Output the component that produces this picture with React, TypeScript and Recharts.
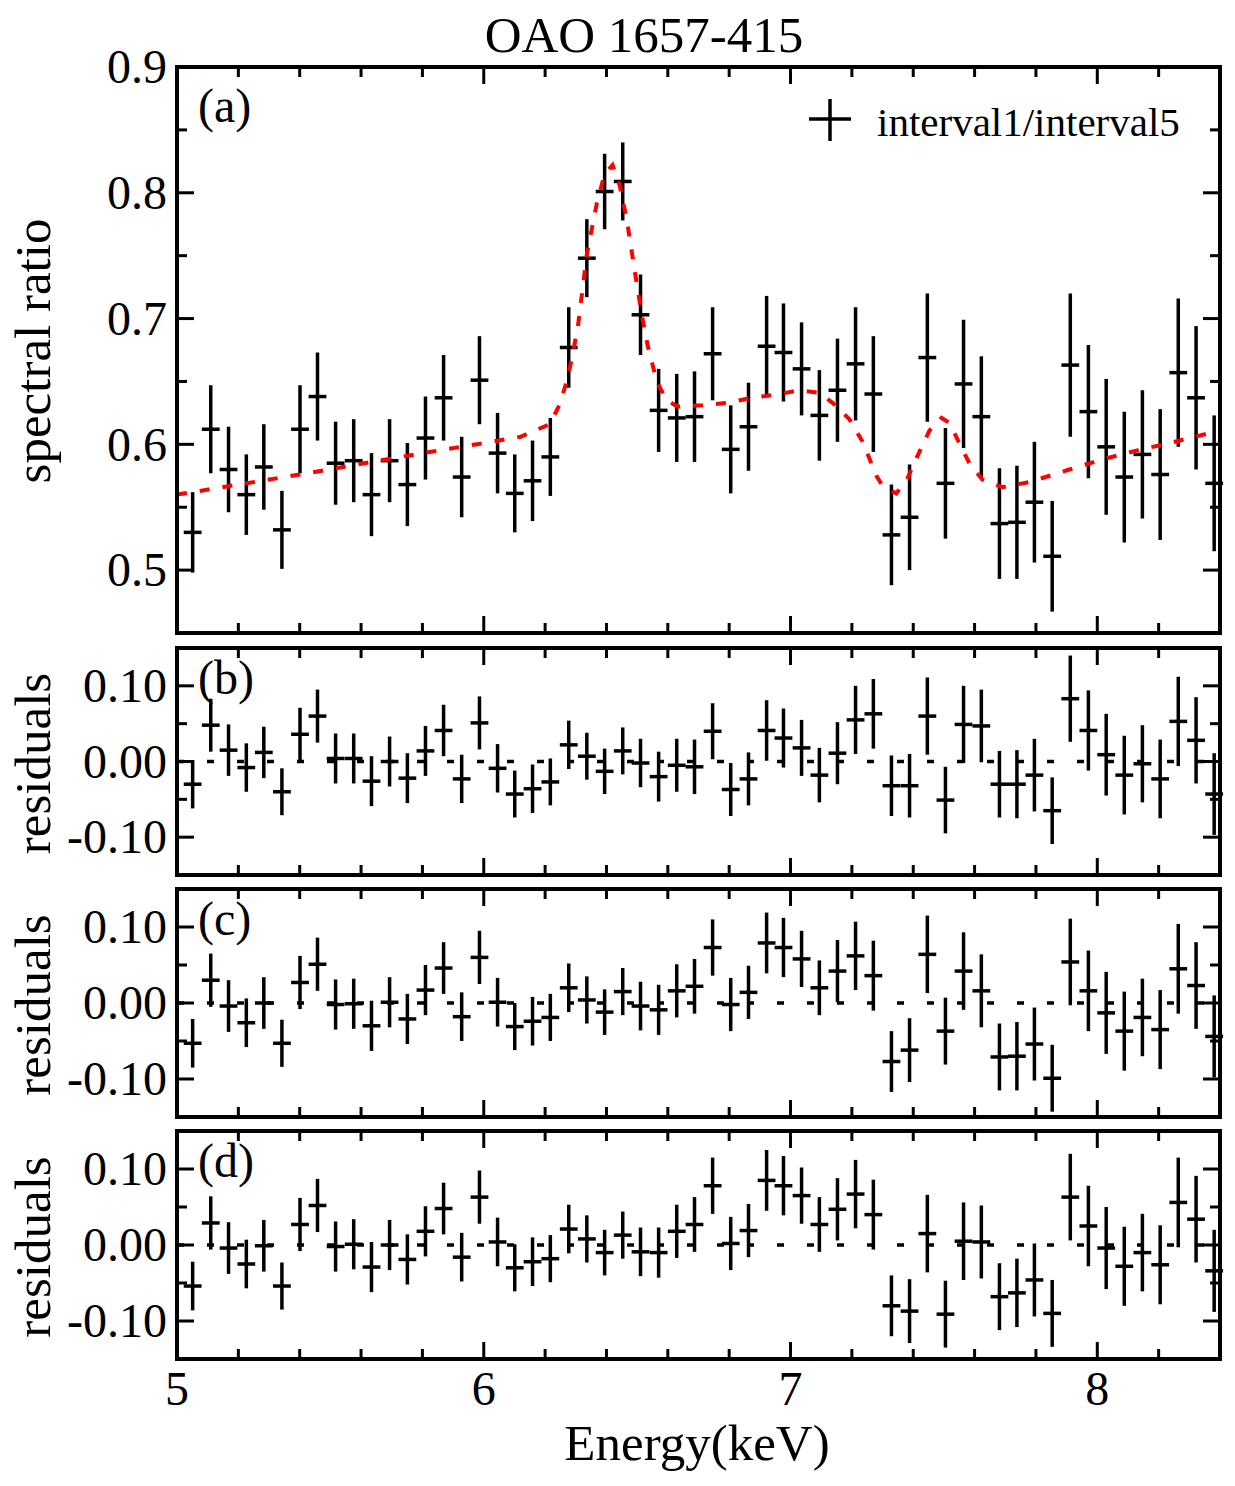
import React from 'react';
import { ComposedChart, XAxis, YAxis, Scatter, ErrorBar, Line, ReferenceLine } from 'recharts';

// bin centres (keV)
const energy = [
  5.051, 5.110, 5.168, 5.226, 5.283, 5.342, 5.401, 5.458, 5.517, 5.576,
  5.634, 5.693, 5.751, 5.810, 5.869, 5.928, 5.986, 6.045, 6.101, 6.159,
  6.217, 6.277, 6.336, 6.394, 6.453, 6.511, 6.570, 6.629, 6.687, 6.746,
  6.805, 6.863, 6.922, 6.977, 7.036, 7.094, 7.153, 7.212, 7.270, 7.329,
  7.388, 7.446, 7.505, 7.564, 7.622, 7.681, 7.738, 7.795, 7.853, 7.912,
  7.971, 8.029, 8.088, 8.147, 8.205, 8.264, 8.322, 8.381,
];
const binHalfWidth = 0.029;

// interval1 / interval5
const ratio = [
  0.530, 0.612, 0.580, 0.560, 0.582, 0.532, 0.612, 0.638, 0.585, 0.587,
  0.560, 0.587, 0.568, 0.605, 0.637, 0.574, 0.651, 0.593, 0.561, 0.571,
  0.590, 0.677, 0.748, 0.801, 0.809, 0.703, 0.627, 0.621, 0.622, 0.672,
  0.596, 0.614, 0.678, 0.673, 0.660, 0.623, 0.643, 0.664, 0.640, 0.528,
  0.542, 0.669, 0.569, 0.648, 0.622, 0.537, 0.538, 0.554, 0.511, 0.663,
  0.626, 0.598, 0.574, 0.592, 0.576, 0.657, 0.637, 0.569,
];
const ratioErr = [
  0.032, 0.035, 0.034, 0.032, 0.034, 0.031, 0.035, 0.035, 0.033, 0.033,
  0.033, 0.033, 0.033, 0.033, 0.034, 0.032, 0.035, 0.032, 0.031, 0.032,
  0.031, 0.032, 0.031, 0.030, 0.031, 0.032, 0.033, 0.035, 0.036, 0.037,
  0.035, 0.035, 0.040, 0.039, 0.037, 0.036, 0.041, 0.045, 0.046, 0.040,
  0.042, 0.051, 0.044, 0.051, 0.048, 0.044, 0.045, 0.048, 0.044, 0.057,
  0.053, 0.054, 0.052, 0.051, 0.052, 0.059, 0.057, 0.054,
];

// best-fit model (red dashed)
const modelEnergy = [
  5.00, 5.40, 5.80, 6.00, 6.12, 6.215, 6.248, 6.274, 6.306, 6.336,
  6.368, 6.394, 6.420, 6.443, 6.466, 6.492, 6.515, 6.534, 6.564, 6.596,
  6.632, 6.713, 6.792, 6.876, 6.964, 7.029, 7.094, 7.137, 7.192, 7.235,
  7.280, 7.300, 7.345, 7.381, 7.420, 7.453, 7.492, 7.518, 7.544, 7.583,
  7.625, 7.691, 7.779, 7.909, 8.016, 8.127, 8.235, 8.40,
];
const modelRatio = [
  0.560, 0.576, 0.593, 0.601, 0.606, 0.616, 0.632, 0.653, 0.692, 0.751,
  0.791, 0.815, 0.822, 0.806, 0.779, 0.738, 0.703, 0.679, 0.650, 0.635,
  0.630, 0.631, 0.633, 0.637, 0.640, 0.643, 0.641, 0.633, 0.620, 0.602,
  0.575, 0.567, 0.561, 0.573, 0.594, 0.611, 0.621, 0.617, 0.604, 0.585,
  0.572, 0.566, 0.570, 0.580, 0.588, 0.595, 0.601, 0.611,
];

// residuals of the three fits
const residB = [
  -0.030, 0.048, 0.015, -0.008, 0.012, -0.040, 0.036, 0.060, 0.004, 0.004,
  -0.026, 0.000, -0.022, 0.014, 0.041, -0.023, 0.051, -0.009, -0.043, -0.036,
  -0.027, 0.022, 0.007, -0.013, 0.014, -0.002, -0.020, -0.005, -0.007, 0.040,
  -0.037, -0.023, 0.041, 0.031, 0.018, -0.018, 0.011, 0.055, 0.063, -0.032,
  -0.032, 0.060, -0.051, 0.049, 0.047, -0.030, -0.030, -0.018, -0.065, 0.083,
  0.041, 0.009, -0.018, -0.003, -0.023, 0.053, 0.028, -0.043,
];
const residC = [
  -0.053, 0.030, -0.004, -0.026, 0.000, -0.053, 0.027, 0.051, -0.002, -0.001,
  -0.030, 0.001, -0.021, 0.017, 0.046, -0.018, 0.060, 0.001, -0.031, -0.024,
  -0.019, 0.020, 0.004, -0.012, 0.015, -0.004, -0.009, 0.016, 0.022, 0.073,
  -0.002, 0.014, 0.079, 0.073, 0.058, 0.020, 0.042, 0.062, 0.036, -0.077,
  -0.062, 0.064, -0.037, 0.042, 0.016, -0.071, -0.070, -0.054, -0.099, 0.054,
  0.016, -0.013, -0.037, -0.019, -0.035, 0.045, 0.023, -0.044,
];
const residD = [
  -0.054, 0.029, -0.004, -0.025, -0.001, -0.054, 0.027, 0.052, -0.002, 0.001,
  -0.029, 0.000, -0.019, 0.018, 0.048, -0.016, 0.063, 0.004, -0.030, -0.022,
  -0.018, 0.021, 0.008, -0.010, 0.013, -0.009, -0.010, 0.018, 0.027, 0.078,
  0.002, 0.019, 0.085, 0.078, 0.065, 0.027, 0.047, 0.067, 0.040, -0.080,
  -0.087, 0.015, -0.091, 0.005, 0.004, -0.068, -0.063, -0.046, -0.090, 0.063,
  0.025, -0.004, -0.028, -0.010, -0.026, 0.056, 0.034, -0.034,
];

const xMajor = [5, 6, 7, 8];
const xMinor = [5.2, 5.4, 5.6, 5.8, 6.2, 6.4, 6.6, 6.8, 7.2, 7.4, 7.6, 7.8, 8.2];
const ratioMajor = [0.5, 0.6, 0.7, 0.8, 0.9];
const ratioMinor = [0.55, 0.65, 0.75, 0.85];
const residMajor = [-0.1, 0, 0.1];
const residMinor = [-0.05, 0.05];

const FONT = '"Liberation Serif", "Times New Roman", serif';
const frame = { stroke: '#000', strokeWidth: 4, strokeLinecap: 'square' as const };
const X_DOMAIN: [number, number] = [5, 8.4];
const MAJOR_LEN = 17;
const MINOR_LEN = 10;
const blank = () => <g />;

const toPoints = (vals: number[]) =>
  energy.map((x, i) => ({ x, y: vals[i], ex: binHalfWidth, ey: ratioErr[i] }));
const modelPoints = modelEnergy.map((x, i) => ({ x, y: modelRatio[i] }));

const isIn = (list: number[], v: number) => list.some((m) => Math.abs(m - v) < 1e-9);

// inward tick marks (+ optional outside labels) drawn at the axis line
function makeTick(side: 'left' | 'right' | 'top' | 'bottom', major: number[], fmt?: (v: number) => string) {
  return (props: any) => {
    const { x, y, payload } = props;
    const big = isIn(major, payload.value);
    const len = big ? MAJOR_LEN : MINOR_LEN;
    let x2 = x;
    let y2 = y;
    if (side === 'left') x2 = x + len;
    if (side === 'right') x2 = x - len;
    if (side === 'top') y2 = y + len;
    if (side === 'bottom') y2 = y - len;
    return (
      <g>
        <line x1={x} y1={y} x2={x2} y2={y2} stroke="#000" strokeWidth={3} />
        {fmt && big && side === 'left' && (
          <text x={x - 10} y={y} dy="0.34em" textAnchor="end" fontSize={48} fontFamily={FONT} fill="#000">
            {fmt(payload.value)}
          </text>
        )}
        {fmt && big && side === 'bottom' && (
          <text x={x} y={y + 12} dy="0.71em" textAnchor="middle" fontSize={48} fontFamily={FONT} fill="#000">
            {fmt(payload.value)}
          </text>
        )}
      </g>
    );
  };
}

interface PanelProps {
  top: number;
  bottom: number;
  domain: [number, number];
  major: number[];
  minor: number[];
  fmt: (v: number) => string;
  xLabels?: boolean;
  points: { x: number; y: number; ex: number; ey: number }[];
  model?: boolean;
}

function Panel({ top, bottom, domain, major, minor, fmt, xLabels, points, model }: PanelProps) {
  const pad = 40;
  const extra = xLabels ? 70 : 20;
  const h = bottom - top;
  const xTicks = [...xMajor, ...xMinor];
  const yTicks = [...major, ...minor];

  return (
    <div style={{ position: 'absolute', left: 0, top: top - pad }}>
      <ComposedChart width={1235} height={pad + h + extra} margin={{ top: 0, right: 0, bottom: 0, left: 0 }}>
        <XAxis
          xAxisId="b"
          dataKey="x"
          type="number"
          domain={X_DOMAIN}
          allowDataOverflow
          ticks={xTicks}
          interval={0}
          orientation="bottom"
          height={extra}
          tickLine={false}
          tickSize={0}
          tickMargin={0}
          axisLine={frame}
          tick={makeTick('bottom', xMajor, xLabels ? (v) => String(v) : undefined)}
        />
        <XAxis
          xAxisId="t"
          dataKey="x"
          type="number"
          domain={X_DOMAIN}
          allowDataOverflow
          ticks={xTicks}
          interval={0}
          orientation="top"
          height={pad}
          tickLine={false}
          tickSize={0}
          tickMargin={0}
          axisLine={frame}
          tick={makeTick('top', xMajor)}
        />
        <YAxis
          yAxisId="l"
          type="number"
          domain={domain}
          allowDataOverflow
          ticks={yTicks}
          interval={0}
          orientation="left"
          width={177}
          tickLine={false}
          tickSize={0}
          tickMargin={0}
          axisLine={frame}
          tick={makeTick('left', major, fmt)}
        />
        <YAxis
          yAxisId="r"
          type="number"
          domain={domain}
          allowDataOverflow
          ticks={yTicks}
          interval={0}
          orientation="right"
          width={15}
          tickLine={false}
          tickSize={0}
          tickMargin={0}
          axisLine={frame}
          tick={makeTick('right', major)}
        />

        {!model && (
          <ReferenceLine
            xAxisId="b"
            yAxisId="l"
            y={0}
            stroke="#000"
            strokeWidth={3.5}
            strokeDasharray="7 23"
          />
        )}
        <Scatter
          xAxisId="b"
          yAxisId="l"
          data={points}
          dataKey="y"
          shape={blank}
          isAnimationActive={false}
        >
          <ErrorBar dataKey="ex" direction="x" width={0} stroke="#000" strokeWidth={3.5} isAnimationActive={false} />
          <ErrorBar dataKey="ey" direction="y" width={0} stroke="#000" strokeWidth={3.5} isAnimationActive={false} />
        </Scatter>
        {model && (
          <Line
            xAxisId="b"
            yAxisId="l"
            data={modelPoints}
            dataKey="y"
            type="linear"
            stroke="#ff0000"
            strokeWidth={4}
            strokeDasharray="10 13"
            dot={false}
            activeDot={false}
            isAnimationActive={false}
          />
        )}
      </ComposedChart>
    </div>
  );
}

const fmt1 = (v: number) => v.toFixed(1);
const fmt2 = (v: number) => v.toFixed(2);

export default function App() {
  const residPanels = [
    { label: '(b)', top: 648, bottom: 875, vals: residB },
    { label: '(c)', top: 889, bottom: 1117, vals: residC },
    { label: '(d)', top: 1131, bottom: 1359, vals: residD },
  ];

  return (
    <div style={{ position: 'absolute', left: 0, top: 0, width: 1235, height: 1486, background: '#fff' }}>
      <Panel
        top={67}
        bottom={633}
        domain={[0.45, 0.9]}
        major={ratioMajor}
        minor={ratioMinor}
        fmt={fmt1}
        points={toPoints(ratio)}
        model
      />
      {residPanels.map((p, i) => (
        <Panel
          key={p.label}
          top={p.top}
          bottom={p.bottom}
          domain={[-0.15, 0.15]}
          major={residMajor}
          minor={residMinor}
          fmt={fmt2}
          points={toPoints(p.vals)}
          xLabels={i === residPanels.length - 1}
        />
      ))}

      <svg
        width={1235}
        height={1486}
        style={{ position: 'absolute', left: 0, top: 0, pointerEvents: 'none' }}
        fontFamily={FONT}
        fill="#000"
      >
        <text x={644} y={52} textAnchor="middle" fontSize={51}>OAO 1657-415</text>
        <text transform="translate(50,351) rotate(-90)" textAnchor="middle" fontSize={51}>spectral ratio</text>
        {residPanels.map((p) => (
          <text
            key={p.label}
            transform={`translate(50,${(p.top + p.bottom) / 2 + 2}) rotate(-90)`}
            textAnchor="middle"
            fontSize={51}
          >
            residuals
          </text>
        ))}
        <text x={198} y={122} fontSize={48}>(a)</text>
        {residPanels.map((p) => (
          <text key={p.label} x={198} y={p.top + 46} fontSize={48}>{p.label}</text>
        ))}
        <line x1={809} y1={119} x2={851} y2={119} stroke="#000" strokeWidth={3.5} />
        <line x1={830} y1={99} x2={830} y2={141} stroke="#000" strokeWidth={3.5} />
        <text x={877} y={136} fontSize={41}>interval1/interval5</text>
        <text x={697} y={1460} textAnchor="middle" fontSize={51}>Energy(keV)</text>
      </svg>
    </div>
  );
}
